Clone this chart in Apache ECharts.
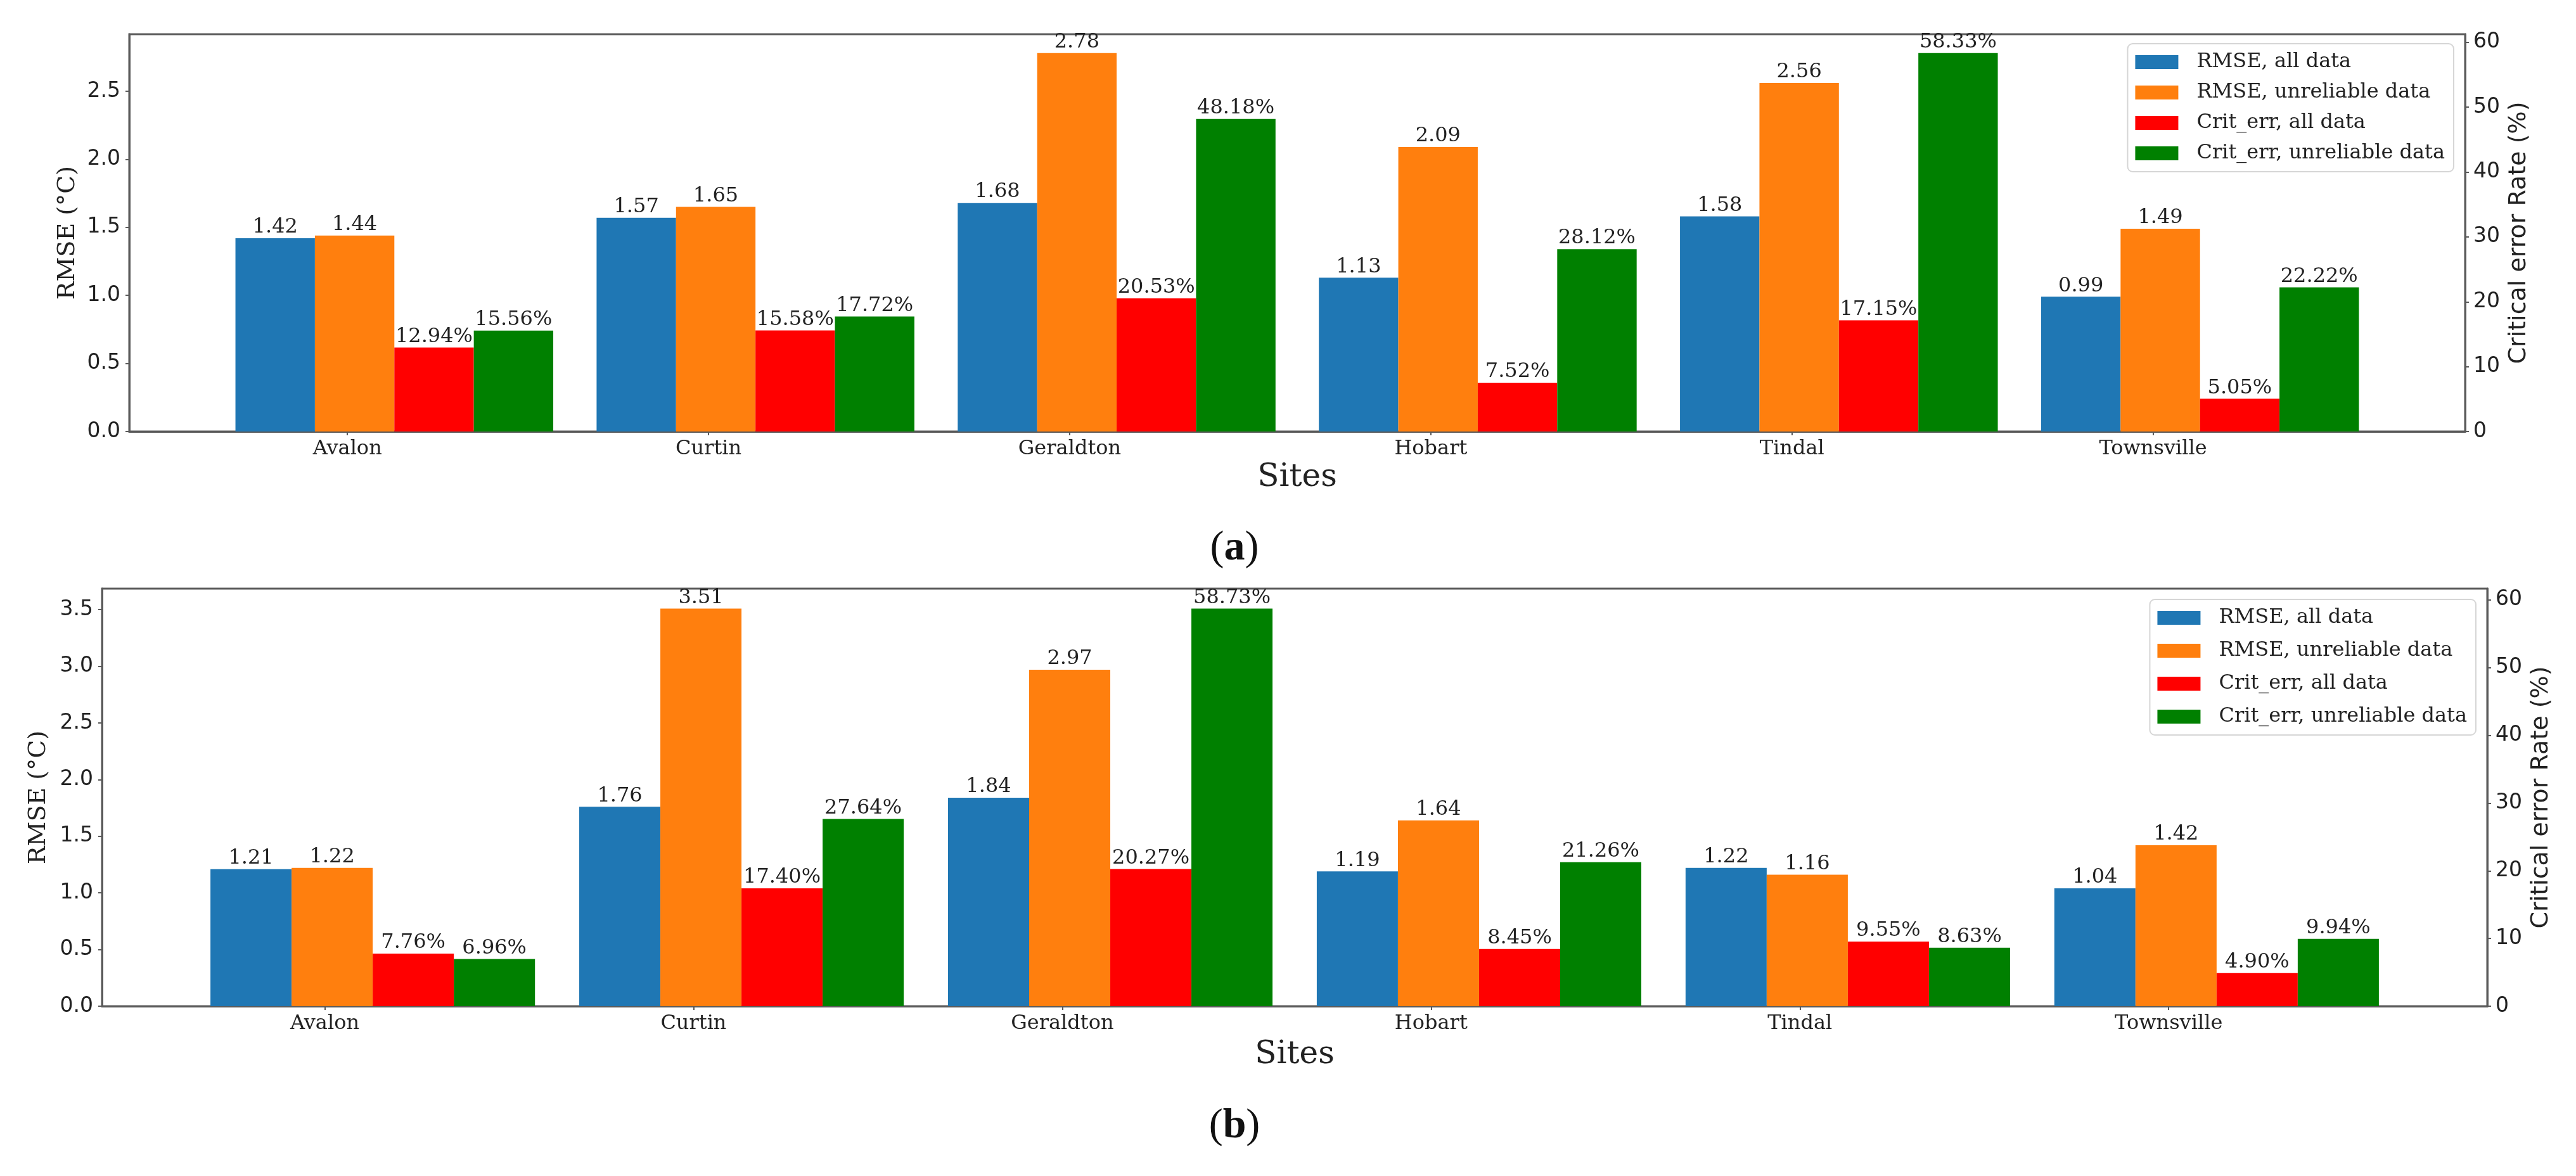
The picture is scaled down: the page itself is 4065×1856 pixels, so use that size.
<!DOCTYPE html>
<html>
<head>
<meta charset="utf-8">
<script src="https://cdn.jsdelivr.net/npm/echarts@6/dist/echarts.min.js"></script>
<style>
  html, body { margin: 0; padding: 0; background: #fff; }
  #chart { width: 4065px; height: 1856px; }
</style>
</head>
<body>
<div id="chart"></div>
<script>
// sites on the x axis, shared by both panels
const sites = ['Avalon', 'Curtin', 'Geraldton', 'Hobart', 'Tindal', 'Townsville'];
const seriesNames = ['RMSE, all data', 'RMSE, unreliable data', 'Crit_err, all data', 'Crit_err, unreliable data'];
const colors = ['#1f77b4', '#ff7f0e', '#ff0000', '#008000'];

// panel (a)
const rmseAllA = [1.42, 1.57, 1.68, 1.13, 1.58, 0.99];
const rmseUnrelA = [1.44, 1.65, 2.78, 2.09, 2.56, 1.49];
const critAllA = [12.94, 15.58, 20.53, 7.52, 17.15, 5.05];
const critUnrelA = [15.56, 17.72, 48.18, 28.12, 58.33, 22.22];

// panel (b)
const rmseAllB = [1.21, 1.76, 1.84, 1.19, 1.22, 1.04];
const rmseUnrelB = [1.22, 3.51, 2.97, 1.64, 1.16, 1.42];
const critAllB = [7.76, 17.40, 20.27, 8.45, 9.55, 4.90];
const critUnrelB = [6.96, 27.64, 58.73, 21.26, 8.63, 9.94];

// tick labels
const rmseTicksA = [0, 0.5, 1, 1.5, 2, 2.5];
const rmseTicksB = [0, 0.5, 1, 1.5, 2, 2.5, 3, 3.5];
const critTicks = [0, 10, 20, 30, 40, 50, 60];
const siteTicks = [0, 1, 2, 3, 4, 5];

// bar layout (matplotlib style: width 0.22, first bar at x-0.2)
const BAR_W = 0.22;
const offsets = [-0.2, 0.02, 0.24, 0.46];
const xLo = offsets[0] - BAR_W / 2;
const xHi = sites.length - 1 + offsets[3] + BAR_W / 2;
const xPad = 0.05 * (xHi - xLo);

const SERIF = 'DejaVu Serif';
const SANS = 'DejaVu Sans';
const AXIS_COL = '#5a5a5a';
const TXT = '#222';

const chart = echarts.init(document.getElementById('chart'), null, { renderer: 'canvas' });

function barRender(isPct) {
  return function (params, api) {
    const x = api.value(0), y = api.value(1);
    const p0 = api.coord([x - BAR_W / 2, y]);
    const p1 = api.coord([x + BAR_W / 2, 0]);
    return {
      type: 'group',
      children: [
        {
          type: 'rect',
          shape: { x: p0[0], y: p0[1], width: p1[0] - p0[0], height: p1[1] - p0[1] },
          style: { fill: api.visual('color') }
        },
        {
          type: 'text',
          x: (p0[0] + p1[0]) / 2,
          y: p0[1] - 1,
          style: {
            text: y.toFixed(2) + (isPct ? '%' : ''),
            fontFamily: SERIF, fontSize: 32, fill: TXT,
            align: 'center', verticalAlign: 'bottom'
          }
        }
      ]
    };
  };
}

function makeSeries(panel, arrays) {
  return arrays.map((vals, i) => ({
    type: 'custom',
    name: seriesNames[i],
    xAxisIndex: panel,
    yAxisIndex: panel * 2 + (i < 2 ? 0 : 1),
    itemStyle: { color: colors[i] },
    encode: { x: 0, y: 1 },
    data: vals.map((v, k) => [k + offsets[i], v]),
    renderItem: barRender(i >= 2),
    clip: false
  }));
}

function xAxisCfg(grid, nameGap) {
  return {
    type: 'value', gridIndex: grid,
    min: xLo - xPad, max: xHi + xPad,
    name: 'Sites', nameLocation: 'middle', nameGap: nameGap,
    nameTextStyle: { fontFamily: SERIF, fontSize: 50, color: TXT },
    axisLine: { show: true, onZero: false, lineStyle: { color: AXIS_COL, width: 3 } },
    axisTick: { show: true, length: 6, customValues: siteTicks, lineStyle: { color: AXIS_COL, width: 2 } },
    axisLabel: {
      customValues: siteTicks, margin: 12,
      fontFamily: SERIF, fontSize: 32, color: TXT,
      formatter: v => sites[Math.round(v)]
    },
    splitLine: { show: false }
  };
}

function leftAxisCfg(grid, maxVal, ticks, nameGap) {
  return {
    type: 'value', gridIndex: grid, position: 'left',
    min: 0, max: maxVal * 1.05,
    name: 'RMSE (°C)', nameLocation: 'middle', nameGap: nameGap, nameRotate: 90,
    nameTextStyle: { fontFamily: SERIF, fontSize: 38, color: TXT },
    axisLine: { show: true, onZero: false, lineStyle: { color: AXIS_COL, width: 3 } },
    axisTick: { show: true, length: 6, customValues: ticks, lineStyle: { color: AXIS_COL, width: 2 } },
    axisLabel: {
      customValues: ticks, margin: 14,
      fontFamily: SANS, fontSize: 33, color: TXT,
      formatter: v => v.toFixed(1)
    },
    splitLine: { show: false }
  };
}

function rightAxisCfg(grid, maxVal, nameGap) {
  return {
    type: 'value', gridIndex: grid, position: 'right',
    min: 0, max: maxVal * 1.05,
    name: 'Critical error Rate (%)', nameLocation: 'middle', nameGap: nameGap, nameRotate: 90,
    nameTextStyle: { fontFamily: SANS, fontSize: 38, color: TXT },
    axisLine: { show: true, onZero: false, lineStyle: { color: AXIS_COL, width: 3 } },
    axisTick: { show: true, length: 6, customValues: critTicks, lineStyle: { color: AXIS_COL, width: 2 } },
    axisLabel: {
      customValues: critTicks, margin: 13,
      fontFamily: SANS, fontSize: 33, color: TXT,
      formatter: v => String(v)
    },
    splitLine: { show: false }
  };
}

function legendCfg(top, right, gap) {
  return {
    orient: 'vertical', top: top, right: right,
    data: seriesNames, icon: 'rect',
    itemWidth: 68, itemHeight: 22, itemGap: gap,
    selectedMode: false,
    padding: [13, 14, 13, 12],
    backgroundColor: 'rgba(255,255,255,0.85)',
    borderColor: '#d6d6d6', borderWidth: 2, borderRadius: 8,
    textStyle: { fontFamily: SERIF, fontSize: 32, color: TXT, padding: [0, 0, 0, 24] }
  };
}

function caption(x, y, letter) {
  return {
    type: 'text', x: x, y: y,
    style: {
      text: '{n|(}{b|' + letter + '}{n|)}',
      align: 'center', verticalAlign: 'middle',
      rich: {
        n: { fontFamily: 'Liberation Serif', fontSize: 66, fill: '#111' },
        b: { fontFamily: 'Liberation Serif', fontSize: 66, fontWeight: 'bold', fill: '#111' }
      }
    }
  };
}

const option = {
  backgroundColor: '#fff',
  animation: false,
  color: colors,
  grid: [
    { left: 204, right: 175, top: 54, height: 627, show: true, borderColor: AXIS_COL, borderWidth: 3, backgroundColor: 'transparent' },
    { left: 161, right: 140, top: 929, height: 659, show: true, borderColor: AXIS_COL, borderWidth: 3, backgroundColor: 'transparent' }
  ],
  xAxis: [xAxisCfg(0, 48), xAxisCfg(1, 52)],
  yAxis: [
    leftAxisCfg(0, Math.max(...rmseAllA, ...rmseUnrelA), rmseTicksA, 78),
    rightAxisCfg(0, Math.max(...critAllA, ...critUnrelA), 56),
    leftAxisCfg(1, Math.max(...rmseAllB, ...rmseUnrelB), rmseTicksB, 81),
    rightAxisCfg(1, Math.max(...critAllB, ...critUnrelB), 58)
  ],
  legend: [legendCfg(69, 193, 16), legendCfg(946, 158, 20)],
  series: [
    ...makeSeries(0, [rmseAllA, rmseUnrelA, critAllA, critUnrelA]),
    ...makeSeries(1, [rmseAllB, rmseUnrelB, critAllB, critUnrelB])
  ],
  graphic: [caption(1948, 866, 'a'), caption(1948, 1778, 'b')]
};

chart.setOption(option);
</script>
</body>
</html>
